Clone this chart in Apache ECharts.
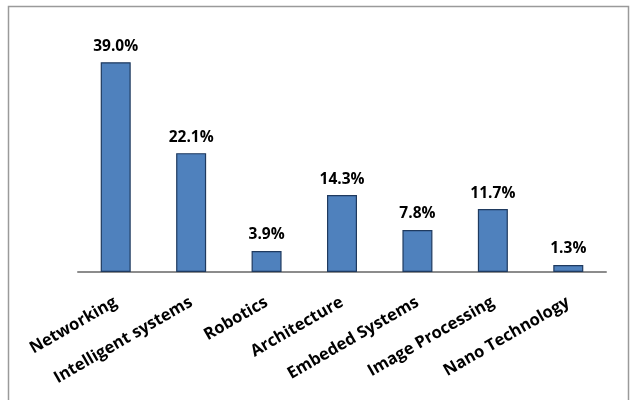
<!DOCTYPE html>
<html>
<head>
<meta charset="utf-8">
<script src="https://cdn.jsdelivr.net/npm/echarts@6/dist/echarts.min.js"></script>
<style>
  html, body { margin: 0; padding: 0; background: #fff; }
  #chart { width: 630px; height: 400px; }
</style>
</head>
<body>
<div id="chart"></div>
<script>
// Research areas and their share of the total, in percent
const categories = ['Networking', 'Intelligent systems', 'Robotics', 'Architecture', 'Embeded Systems', 'Image Processing', 'Nano Technology'];
const shares = [39.0, 22.1, 3.9, 14.3, 7.8, 11.7, 1.3];

const FONT = '"Open Sans", Lato, sans-serif';

const chart = echarts.init(document.getElementById('chart'), null, { renderer: 'canvas' });

chart.setOption({
  animation: false,
  backgroundColor: '#ffffff',
  graphic: [{
    type: 'rect',
    shape: { x: 8.5, y: 6.5, width: 620, height: 400 },
    style: { fill: 'none', stroke: '#9a9a9a', lineWidth: 1.5 },
    silent: true
  }],
  grid: { left: 78, right: 24, top: 30, bottom: 128, containLabel: false },
  xAxis: {
    type: 'category',
    data: categories,
    axisLine: { show: true, lineStyle: { color: '#8c8c8c', width: 2 } },
    axisTick: { show: false },
    axisLabel: {
      interval: 0,
      rotate: 30,
      margin: 29,
      color: '#000',
      fontFamily: FONT,
      fontWeight: 'bold',
      fontSize: 16.5
    }
  },
  yAxis: {
    type: 'value',
    min: 0,
    max: 45,
    show: false,
    splitLine: { show: false }
  },
  series: [{
    type: 'bar',
    data: shares,
    barWidth: 30,
    itemStyle: { color: '#4F81BD', borderColor: '#1F3A5F', borderWidth: 1.2 },
    label: {
      show: true,
      position: 'top',
      distance: 8,
      formatter: p => p.value.toFixed(1) + '%',
      color: '#000',
      fontFamily: FONT,
      fontWeight: 'bold',
      fontSize: 15.5
    }
  }]
});
</script>
</body>
</html>
